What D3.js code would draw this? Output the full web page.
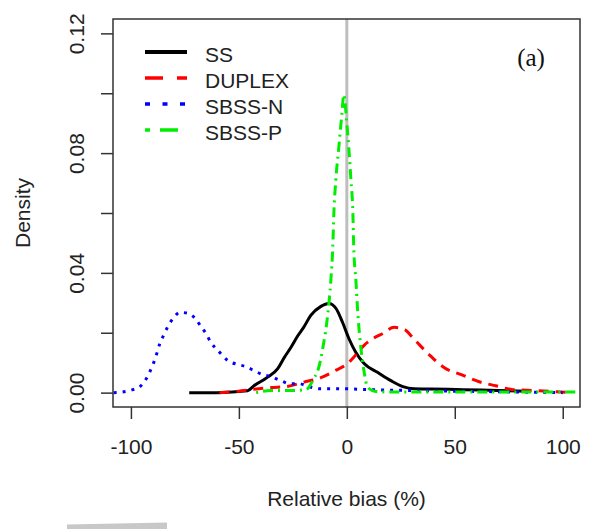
<!DOCTYPE html>
<html>
<head>
<meta charset="utf-8">
<script src="https://cdn.jsdelivr.net/npm/d3@7"></script>
<style>
body { margin: 0; background: #fff; }
svg text { font-family: Arial, "Liberation Sans", sans-serif; fill: #222; }
</style>
</head>
<body>
<svg></svg>
<script>
var width = 589,
    height = 529;

// density curves: x = relative bias (%), y = density
var ssX  = [-73, -60, -46, -43, -37, -32, -29, -26, -22.7, -20, -16.7, -12, -8.3, -5, -2, 1, 4.2, 8, 14.4, 20.4, 26, 31, 39, 54, 70, 84];
var ssY  = [0, 0, 0.0006, 0.0023, 0.005, 0.008, 0.0117, 0.015, 0.019, 0.0218, 0.0258, 0.0288, 0.0298, 0.0281, 0.0235, 0.018, 0.0134, 0.0097, 0.0067, 0.004, 0.002, 0.0013, 0.0012, 0.001, 0.0007, 0.0005];

var duplexX = [-59, -50, -42, -35, -28, -20, -12, -5, 0, 4, 8, 12, 16, 22, 27, 30, 34, 39, 45, 53, 61, 69, 77, 87, 97, 104];
var duplexY = [0, 0.0005, 0.0012, 0.0017, 0.002, 0.0035, 0.005, 0.0075, 0.0095, 0.0125, 0.0158, 0.018, 0.0195, 0.0218, 0.021, 0.0188, 0.0157, 0.0121, 0.0084, 0.006, 0.0037, 0.0023, 0.001, 0.0007, 0.0003, 0];

var sbssNX = [-108, -103.2, -99.1, -95.8, -93.1, -91.2, -89.4, -88, -86.6, -84.7, -82.9, -80.1, -77.3, -73.6, -69.9, -67.6, -65.3, -63, -59.7, -55.1, -50.5, -46.8, -43.1, -38.9, -35.2, -30.6, -26.4, -22.2, -17.6, -13, -3, 10, 30, 60, 90, 100];
var sbssNY = [0, 0.0003, 0.001, 0.002, 0.0044, 0.007, 0.0101, 0.0131, 0.0164, 0.0194, 0.0221, 0.0251, 0.0268, 0.0265, 0.0245, 0.0221, 0.0198, 0.0168, 0.0141, 0.0107, 0.0094, 0.0087, 0.0074, 0.006, 0.0054, 0.004, 0.003, 0.003, 0.002, 0.0013, 0.0013, 0.001, 0.0007, 0.0004, 0.0001, 0];

var sbssPX = [-42, -35, -26, -19, -15.3, -13, -11.1, -8.8, -7.4, -6.5, -6, -5.1, -3.7, -2.3, -1.4, 0, 0.9, 1.9, 2.8, 3.2, 4.2, 5.1, 6.5, 7.9, 9.7, 13.4, 20, 60, 108];
var sbssPY = [0, 0.0007, 0.0007, 0.001, 0.0047, 0.0084, 0.015, 0.0264, 0.0375, 0.0486, 0.06, 0.071, 0.082, 0.093, 0.0995, 0.09, 0.082, 0.071, 0.06, 0.0486, 0.0375, 0.0264, 0.015, 0.0074, 0.0017, 0.0004, 0.0002, 0.0002, 0.0002];

var seriesNames = ["SS", "DUPLEX", "SBSS-N", "SBSS-P"];
var seriesColors = ["#000000", "#ff0000", "#0000ff", "#00ee00"];
var curveDash = ["none", "10,7", "3,6", "2,5,10,5"];
var legendDash = ["none", "18,14", "5,12.5", "5,10,18,10"];

var xTicks = [-100, -50, 0, 50, 100];
var yTicks = [0, 0.02, 0.04, 0.06, 0.08, 0.10, 0.12];
var yLabelled = [0, 0.04, 0.08, 0.12];

var svg = d3.select("svg")
    .attr("width", width)
    .attr("height", height);

svg.append("rect")
    .attr("width", width)
    .attr("height", height)
    .style("fill", "#fff");

var boxL = 113, boxR = 580, boxT = 19, boxB = 407;

var x = d3.scaleLinear().domain([-108.3, 108]).range([boxL, boxR]);
var y = d3.scaleLinear().domain([-0.0048, 0.1248]).range([boxB, boxT]);

svg.append("clipPath").attr("id", "plotclip")
  .append("rect")
    .attr("x", boxL).attr("y", boxT)
    .attr("width", boxR - boxL).attr("height", boxB - boxT);

// axes
var xAxis = svg.append("g")
    .attr("transform", "translate(0," + boxB + ")")
    .call(d3.axisBottom(x).tickValues(xTicks).tickSize(12).tickFormat(d3.format("d")));
xAxis.select(".domain").remove();
xAxis.selectAll("line").style("stroke", "#333").style("stroke-width", 1.5);
xAxis.selectAll("text")
    .attr("y", 47).attr("dy", 0)
    .style("font-size", "21px")
    .style("fill", "#222")
    .text(function(d) { return d < 0 ? "-" + Math.abs(d) : d; });

var yAxis = svg.append("g")
    .attr("transform", "translate(" + boxL + ",0)")
    .call(d3.axisLeft(y).tickValues(yTicks).tickSize(12).tickFormat(d3.format(".2f")));
yAxis.select(".domain").remove();
yAxis.selectAll("line").style("stroke", "#333").style("stroke-width", 1.5);
yAxis.selectAll("text")
    .attr("x", 0).attr("y", 0).attr("dy", 0)
    .attr("text-anchor", "middle")
    .attr("transform", "translate(-29,0) rotate(-90)")
    .style("font-size", "21px")
    .style("fill", "#222")
    .style("display", function(d) {
        return yLabelled.some(function(v) { return Math.abs(v - d) < 1e-9; }) ? null : "none";
    });

// axis titles
svg.append("text")
    .attr("transform", "translate(30," + ((boxT + boxB) / 2) + ") rotate(-90)")
    .attr("text-anchor", "middle")
    .style("font-size", "21px")
    .text("Density");

svg.append("text")
    .attr("x", (boxL + boxR) / 2)
    .attr("y", 506)
    .attr("text-anchor", "middle")
    .style("font-size", "21px")
    .text("Relative bias (%)");

// vertical reference at zero
svg.append("line")
    .attr("x1", x(0)).attr("x2", x(0))
    .attr("y1", boxT).attr("y2", boxB)
    .style("stroke", "#bebebe")
    .style("stroke-width", 3);

// curves
var curves = [
    {xs: ssX, ys: ssY},
    {xs: duplexX, ys: duplexY},
    {xs: sbssNX, ys: sbssNY},
    {xs: sbssPX, ys: sbssPY}
];

var line = d3.line()
    .x(function(d) { return x(d[0]); })
    .y(function(d) { return y(d[1]); })
    .curve(d3.curveMonotoneX);

var plot = svg.append("g").attr("clip-path", "url(#plotclip)");

curves.forEach(function(c, i) {
    var pts = d3.zip(c.xs, c.ys);
    plot.append("path")
        .attr("d", line(pts))
        .style("fill", "none")
        .style("stroke", seriesColors[i])
        .style("stroke-width", 3)
        .style("stroke-dasharray", curveDash[i])
        .style("stroke-linejoin", "round");
});

// box
svg.append("rect")
    .attr("x", boxL).attr("y", boxT)
    .attr("width", boxR - boxL).attr("height", boxB - boxT)
    .style("fill", "none")
    .style("stroke", "#333")
    .style("stroke-width", 1.5);

// legend
var legend = svg.append("g");
seriesNames.forEach(function(name, i) {
    var ly = 52 + i * 26;
    legend.append("line")
        .attr("x1", 145).attr("x2", 187)
        .attr("y1", ly).attr("y2", ly)
        .style("stroke", seriesColors[i])
        .style("stroke-width", i == 0 ? 4 : 3.5)
        .style("stroke-dasharray", legendDash[i]);
    legend.append("text")
        .attr("x", 205)
        .attr("y", ly + 9.5)
        .style("font-size", "21px")
        .text(name);
});

svg.append("text")
    .attr("x", 531)
    .attr("y", 66)
    .attr("text-anchor", "middle")
    .style("font-family", "'Times New Roman', 'Liberation Serif', serif")
    .style("font-size", "25px")
    .style("fill", "#111")
    .text("(a)");

// light grey smudge at the foot of the page
svg.append("polygon")
    .attr("points", "67,524.5 167,522.5 167,529 67,529")
    .style("fill", "#c8c8c8");
</script>
</body>
</html>
